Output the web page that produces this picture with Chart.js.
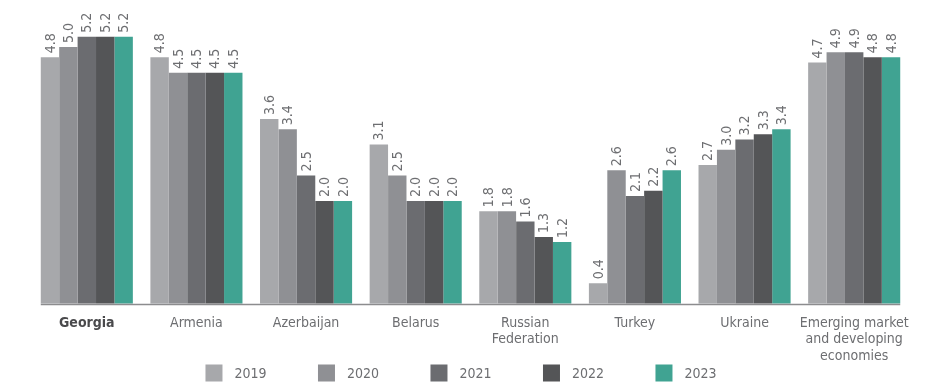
<!DOCTYPE html>
<html>
<head>
<meta charset="utf-8">
<script src="https://cdn.jsdelivr.net/npm/chart.js@4.4.1/dist/chart.umd.min.js"></script>
<style>
  html, body { margin: 0; padding: 0; background: #fff; }
  #wrap { width: 936px; height: 387px; }
</style>
</head>
<body>
<div id="wrap"><canvas id="growthChart"></canvas></div>
<script>
// ============================================
// DATA
// ============================================
const categories = [
    'Georgia', 'Armenia', 'Azerbaijan', 'Belarus',
    ['Russian', 'Federation'], 'Turkey', 'Ukraine',
    ['Emerging market', 'and developing', 'economies']
];
const years = ['2019', '2020', '2021', '2022', '2023'];
const values2019 = [4.8, 4.8, 3.6, 3.1, 1.8, 0.4, 2.7, 4.7];
const values2020 = [5.0, 4.5, 3.4, 2.5, 1.8, 2.6, 3.0, 4.9];
const values2021 = [5.2, 4.5, 2.5, 2.0, 1.6, 2.1, 3.2, 4.9];
const values2022 = [5.2, 4.5, 2.0, 2.0, 1.3, 2.2, 3.3, 4.8];
const values2023 = [5.2, 4.5, 2.0, 2.0, 1.2, 2.6, 3.4, 4.8];
const seriesColors = ['#a7a8ab', '#8f9094', '#6b6c70', '#545557', '#40a392'];

const FONT = "'Liberation Sans Narrow', 'DejaVu Sans Condensed', 'Roboto', sans-serif";
const TEXT_GREY = '#6d6e71';

// value labels, rotated, just above each bar
const valueLabels = {
    id: 'valueLabels',
    afterDatasetsDraw(chart) {
        const ctx = chart.ctx;
        ctx.save();
        ctx.font = '14px ' + FONT;
        ctx.fillStyle = TEXT_GREY;
        ctx.textAlign = 'left';
        ctx.textBaseline = 'middle';
        chart.data.datasets.forEach((ds, i) => {
            chart.getDatasetMeta(i).data.forEach((bar, j) => {
                ctx.save();
                ctx.translate(bar.x, bar.y - 4);
                ctx.rotate(-Math.PI / 2);
                ctx.fillText(ds.data[j].toFixed(1), 0, 1);
                ctx.restore();
            });
        });
        ctx.restore();
    }
};

// baseline only under the bars
const baseLine = {
    id: 'baseLine',
    afterDatasetsDraw(chart) {
        const first = chart.getDatasetMeta(0).data[0];
        const lastMeta = chart.getDatasetMeta(chart.data.datasets.length - 1).data;
        const last = lastMeta[lastMeta.length - 1];
        const y = chart.scales.y.getPixelForValue(0);
        const ctx = chart.ctx;
        ctx.save();
        ctx.strokeStyle = '#8c8c8e';
        ctx.lineWidth = 1.5;
        ctx.beginPath();
        ctx.moveTo(first.x - first.width / 2, y + 0.75);
        ctx.lineTo(last.x + last.width / 2, y + 0.75);
        ctx.stroke();
        ctx.restore();
    }
};

// legend with wide, even spacing
const spacedLegend = {
    id: 'spacedLegend',
    afterDraw(chart) {
        const ctx = chart.ctx;
        const box = 17, gapText = 12, pitch = 112.5;
        ctx.save();
        ctx.font = '14px ' + FONT;
        const n = chart.data.datasets.length;
        const lastW = box + gapText + ctx.measureText(chart.data.datasets[n - 1].label).width;
        const total = pitch * (n - 1) + lastW;
        let x = chart.width / 2 - 7 - total / 2;
        const y = 373;
        ctx.textBaseline = 'middle';
        ctx.textAlign = 'left';
        chart.data.datasets.forEach((ds) => {
            ctx.fillStyle = ds.backgroundColor;
            ctx.fillRect(x, y - box / 2, box, box);
            ctx.fillStyle = TEXT_GREY;
            ctx.fillText(ds.label, x + box + gapText, y + 1);
            x += pitch;
        });
        ctx.restore();
    }
};

const allValues = [values2019, values2020, values2021, values2022, values2023];

new Chart(document.getElementById('growthChart'), {
    type: 'bar',
    data: {
        labels: categories,
        datasets: years.map((yr, i) => ({
            label: yr,
            data: allValues[i],
            backgroundColor: seriesColors[i],
            borderWidth: 0,
            categoryPercentage: 0.84,
            barPercentage: 1.0
        }))
    },
    options: {
        responsive: true,
        maintainAspectRatio: false,
        animation: false,
        layout: { padding: { left: 32, right: 27, top: 6, bottom: 11 } },
        plugins: {
            legend: { display: false },
            tooltip: { enabled: false }
        },
        scales: {
            y: {
                display: false,
                min: 0,
                max: 5.8
            },
            x: {
                grid: { display: false, drawTicks: false },
                border: { display: false },
                ticks: {
                    padding: 12,
                    maxRotation: 0,
                    autoSkip: false,
                    color: function(c) { return c.index === 0 ? '#4a4a4c' : TEXT_GREY; },
                    font: function(c) {
                        return {
                            family: FONT,
                            size: 14,
                            weight: c.index === 0 ? 'bold' : 'normal',
                            lineHeight: 1.15
                        };
                    }
                }
            }
        }
    },
    plugins: [valueLabels, baseLine, spacedLegend]
});
</script>
</body>
</html>
